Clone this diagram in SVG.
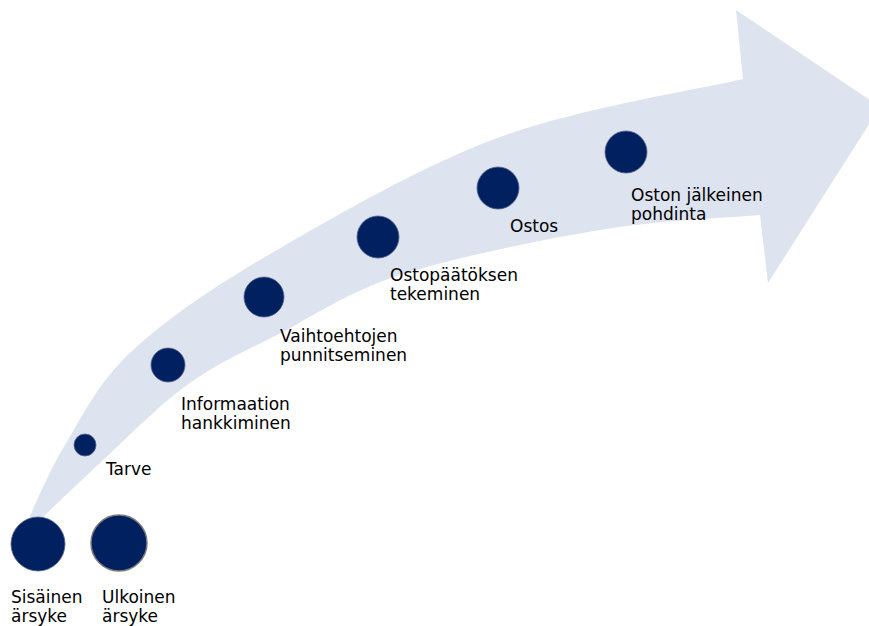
<svg xmlns="http://www.w3.org/2000/svg" width="869" height="626" viewBox="0 0 869 626">
  <style>
    .band { fill: #dde3ef; }
    .dot { fill: #002060; stroke: #55648a; stroke-width: 0.8; }
    .dot-outline { fill: #002060; stroke: #7a7a7a; stroke-width: 1.5; }
    .label { font-family: "DejaVu Sans", "Liberation Sans", sans-serif; font-size: 17px; fill: #000000; }
  </style>

  <!-- curved process arrow -->
  <g id="connectors">
    <path class="band" d="M 38 540 L 25 527
      C 31.7 513.3, 47 474.5, 65 445
      C 83 415.5, 97.7 382.5, 133 350
      C 168.3 317.5, 215.8 285.5, 277 250
      C 338.2 214.5, 422.3 165.5, 500 137
      C 577.7 108.5, 702.5 88.7, 743 79
      L 736 10 L 880 107 L 768 283 L 760 215
      C 733.3 217.5, 660 220, 600 230
      C 540 240, 453.8 257.5, 400 275
      C 346.2 292.5, 312.5 316.7, 277 335
      C 241.5 353.3, 216.5 363.7, 187 385
      C 157.5 406.3, 124 441, 100 463
      C 76 485, 52.5 508, 43 517 Z"/>
  </g>

  <g id="sisainen-arsyke">
    <circle class="dot" cx="38" cy="544" r="27"/>
    <text class="label" x="11" y="603">Sisäinen</text>
    <text class="label" x="11" y="622">ärsyke</text>
  </g>

  <g id="ulkoinen-arsyke">
    <circle class="dot-outline" cx="119" cy="543" r="28"/>
    <text class="label" x="102" y="603">Ulkoinen</text>
    <text class="label" x="102" y="622">ärsyke</text>
  </g>

  <g id="tarve">
    <circle class="dot" cx="85" cy="445" r="11"/>
    <text class="label" x="106" y="475">Tarve</text>
  </g>

  <g id="informaation-hankkiminen">
    <circle class="dot" cx="168" cy="365" r="17"/>
    <text class="label" x="181" y="410">Informaation</text>
    <text class="label" x="181" y="429">hankkiminen</text>
  </g>

  <g id="vaihtoehtojen-punnitseminen">
    <circle class="dot" cx="264" cy="297" r="20"/>
    <text class="label" x="280" y="342">Vaihtoehtojen</text>
    <text class="label" x="280" y="361">punnitseminen</text>
  </g>

  <g id="ostopaatoksen-tekeminen">
    <circle class="dot" cx="378" cy="237" r="21"/>
    <text class="label" x="390" y="281">Ostopäätöksen</text>
    <text class="label" x="390" y="300">tekeminen</text>
  </g>

  <g id="ostos">
    <circle class="dot" cx="498" cy="188" r="21"/>
    <text class="label" x="510" y="232">Ostos</text>
  </g>

  <g id="oston-jalkeinen-pohdinta">
    <circle class="dot" cx="626" cy="152" r="21"/>
    <text class="label" x="631" y="201">Oston jälkeinen</text>
    <text class="label" x="631" y="220">pohdinta</text>
  </g>
</svg>
